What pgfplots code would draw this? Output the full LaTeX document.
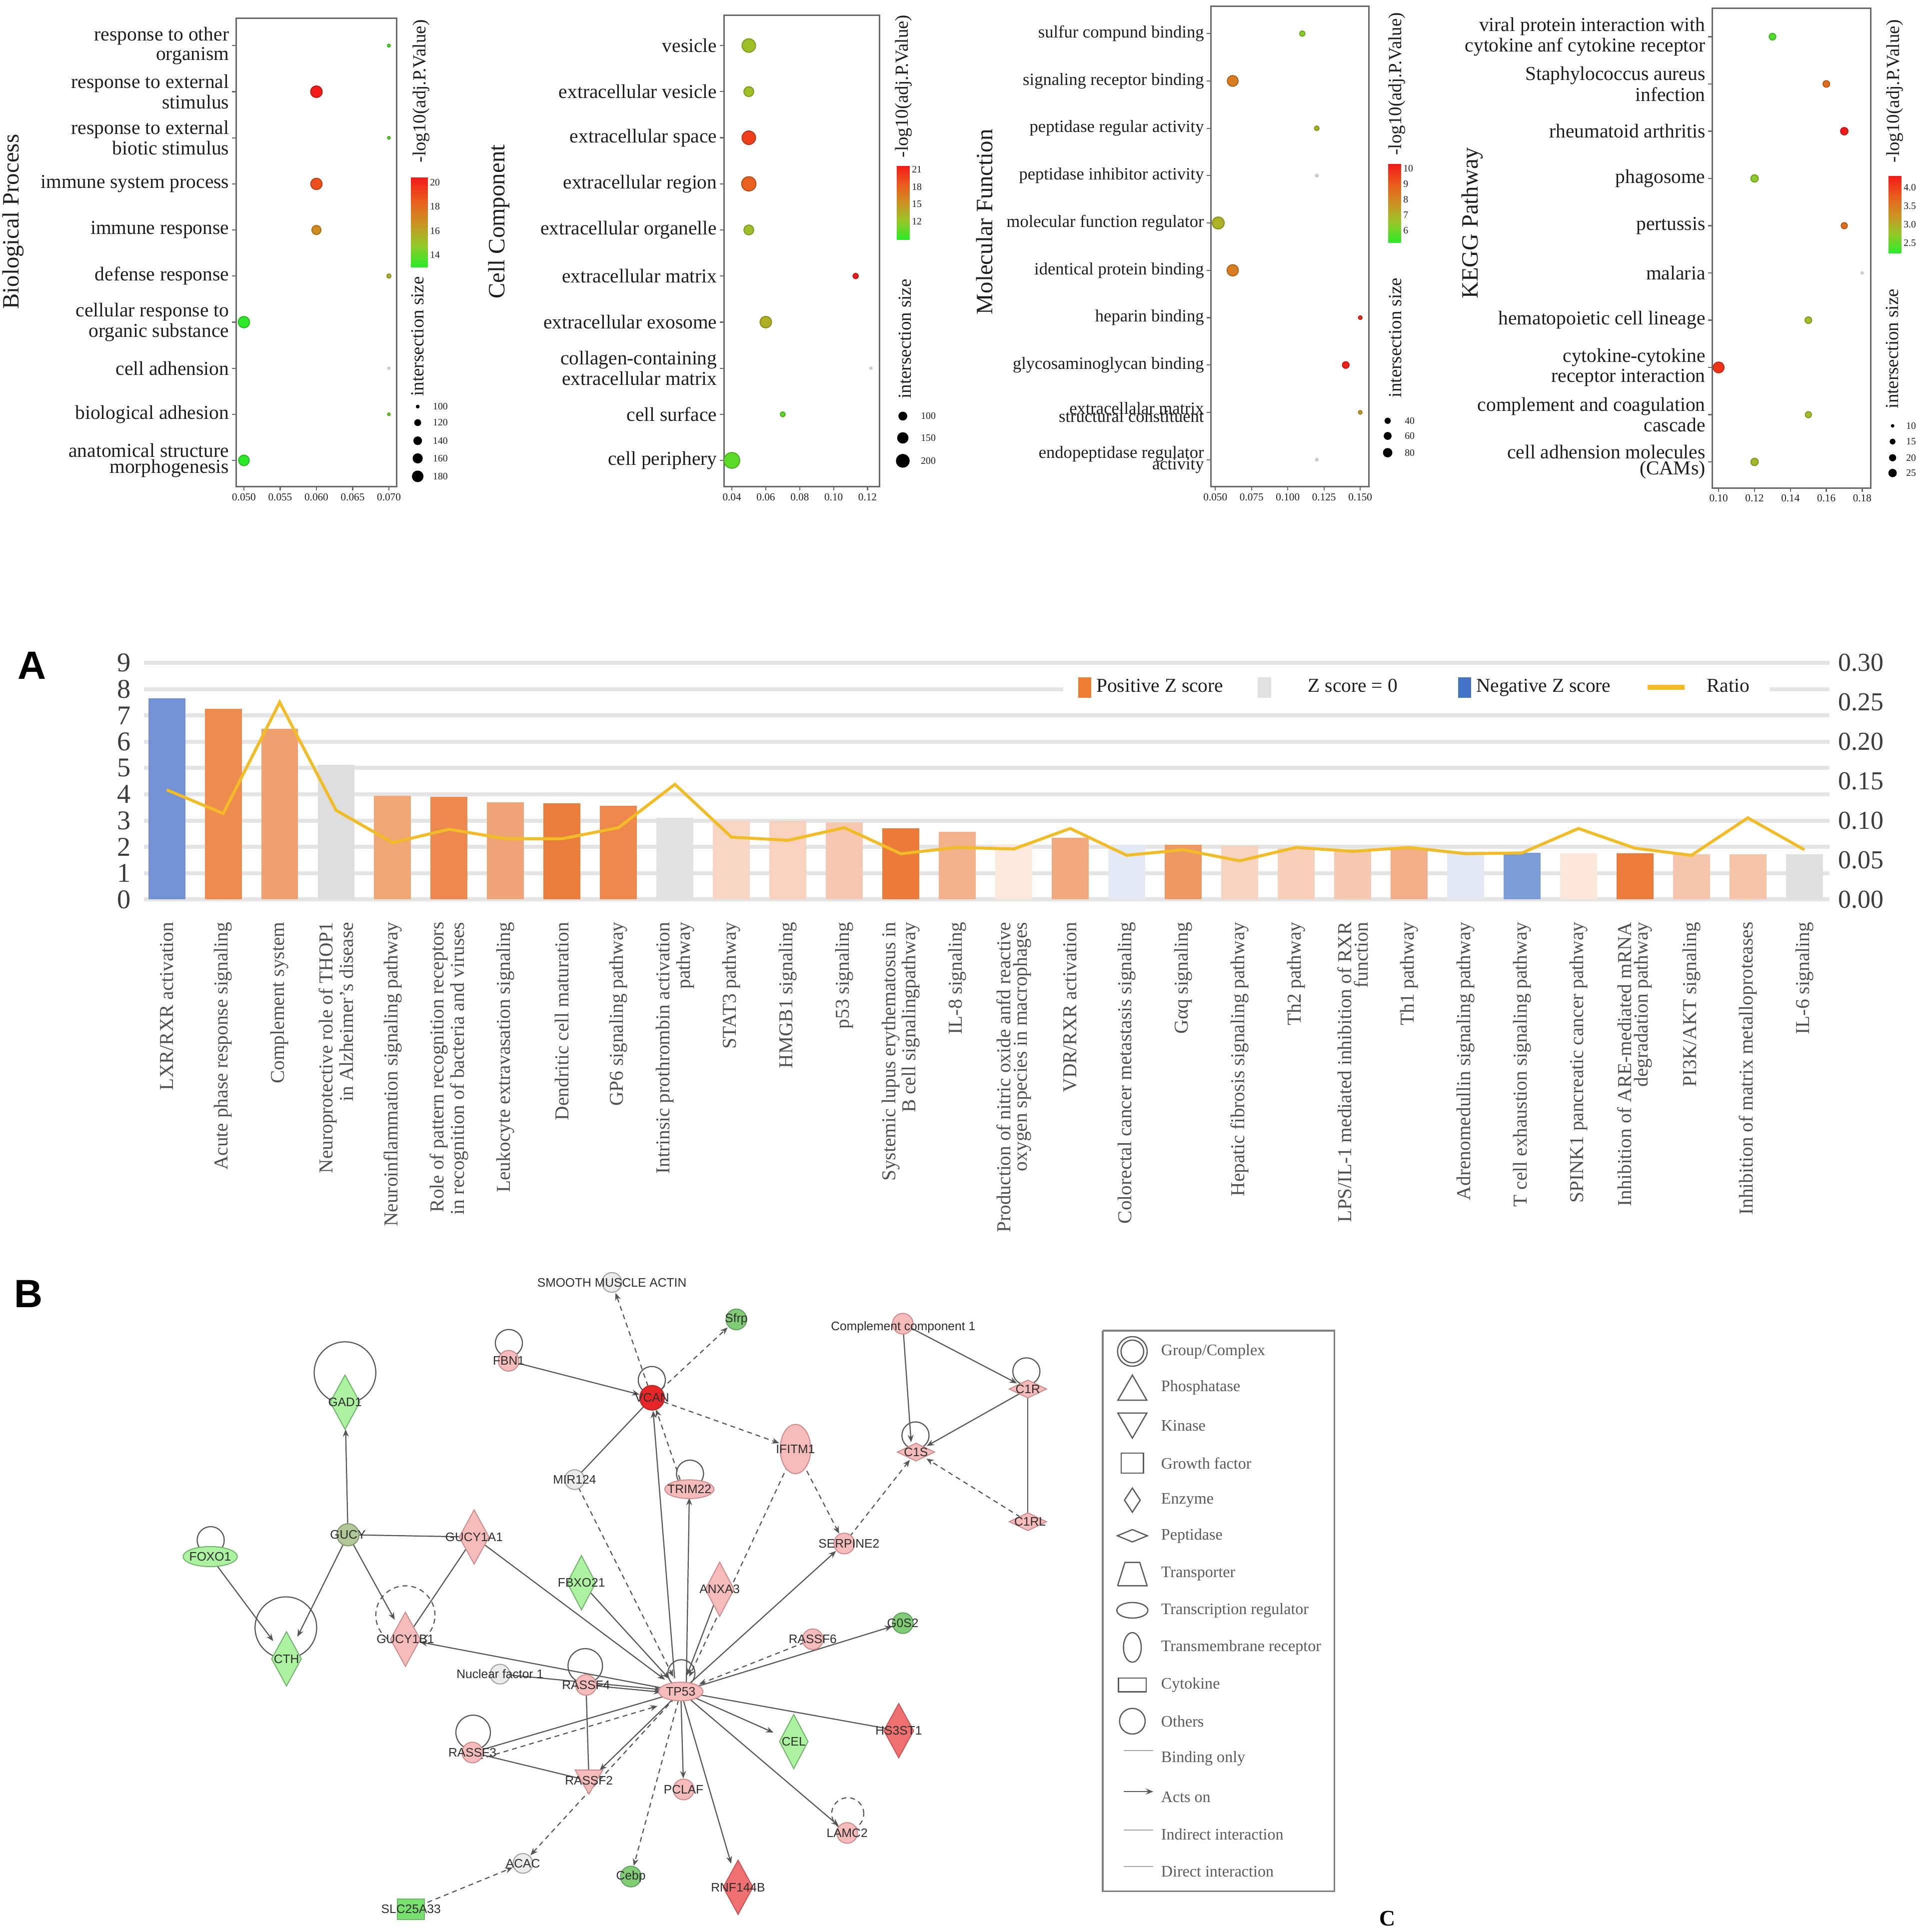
\documentclass[border=0pt]{standalone}
\usepackage{pgfplots}
\pgfplotsset{compat=1.18}
\usepackage{fontspec}
\setmainfont{Liberation Serif}
\setsansfont{Liberation Sans}
\usetikzlibrary{arrows.meta}
\newcommand{\fs}[2]{\fontsize{#1}{#2}\selectfont}

\definecolor{frm}{RGB}{105,105,105}
\definecolor{txt}{RGB}{30,30,30}
\definecolor{gridc}{RGB}{228,228,228}
\definecolor{labc}{RGB}{80,80,80}
\definecolor{ratioc}{RGB}{242,188,38}
\definecolor{edg}{RGB}{85,85,85}
\definecolor{pinkf}{RGB}{246,188,188}
\definecolor{pinkd}{RGB}{205,140,140}
\definecolor{redf}{RGB}{230,38,38}
\definecolor{redd}{RGB}{185,40,40}
\definecolor{rosef}{RGB}{238,112,112}
\definecolor{rosed}{RGB}{200,85,85}
\definecolor{grnf}{RGB}{172,242,160}
\definecolor{grnd}{RGB}{110,180,105}
\definecolor{dgrnf}{RGB}{128,205,118}
\definecolor{dgrnd}{RGB}{95,160,95}
\definecolor{gryf}{RGB}{236,236,236}
\definecolor{gryd}{RGB}{160,160,160}
\definecolor{gucyf}{RGB}{178,200,152}
\definecolor{gucyd}{RGB}{125,150,110}
\definecolor{legc}{RGB}{90,90,90}
\definecolor{posc}{RGB}{237,125,49}
\definecolor{zeroc}{RGB}{225,225,225}
\definecolor{negc}{RGB}{68,114,196}
% bar colours
\definecolor{bc1}{RGB}{115,146,214}
\definecolor{bc2}{RGB}{238,140,80}
\definecolor{bc3}{RGB}{240,160,112}
\definecolor{bc4}{RGB}{222,222,222}
\definecolor{bc5}{RGB}{241,166,118}
\definecolor{bc6}{RGB}{237,137,78}
\definecolor{bc7}{RGB}{240,163,118}
\definecolor{bc8}{RGB}{235,125,60}
\definecolor{bc9}{RGB}{237,135,75}
\definecolor{bc10}{RGB}{226,226,226}
\definecolor{bc11}{RGB}{248,214,196}
\definecolor{bc12}{RGB}{248,210,190}
\definecolor{bc13}{RGB}{246,200,178}
\definecolor{bc14}{RGB}{236,122,56}
\definecolor{bc15}{RGB}{243,178,140}
\definecolor{bc16}{RGB}{252,232,220}
\definecolor{bc17}{RGB}{241,168,124}
\definecolor{bc18}{RGB}{228,233,246}
\definecolor{bc19}{RGB}{238,152,98}
\definecolor{bc20}{RGB}{248,212,192}
\definecolor{bc21}{RGB}{248,208,186}
\definecolor{bc22}{RGB}{246,200,176}
\definecolor{bc23}{RGB}{242,174,134}
\definecolor{bc24}{RGB}{226,232,246}
\definecolor{bc25}{RGB}{124,156,216}
\definecolor{bc26}{RGB}{252,230,218}
\definecolor{bc27}{RGB}{236,124,58}
\definecolor{bc28}{RGB}{246,198,172}
\definecolor{bc29}{RGB}{246,196,168}
\definecolor{bc30}{RGB}{224,224,224}

\tikzset{
  edge/.style={draw=edg, line width=0.45pt},
  arr/.style={-{Stealth[length=3pt,width=2.4pt]}},
  dsh/.style={dash pattern=on 2pt off 1.6pt},
}
\pgfplotsset{
  colormap={gr}{rgb255=(40,235,40) rgb255=(150,200,40) rgb255=(205,145,35) rgb255=(235,90,30) rgb255=(242,25,25)},
  cbbase/.style={scale only axis, anchor=north west, at={(parent axis.north east)},
     axis line style={draw=none}, ytick style={draw=none}, major tick length=0pt,
     yticklabel style={font=\fs{4}{4}, text=txt, inner sep=0.8pt},
     /pgf/number format/assume math mode=true},
  dotplot/.style={scale only axis, anchor=south west, clip=false,
     ytick={1,...,10}, scaled x ticks=false,
     axis line style={draw=frm, line width=0.6pt},
     tick style={draw=frm, line width=0.45pt},
     tick align=outside, major tick length=1.6pt,
     xtick pos=left, ytick pos=left,
     yticklabel style={font=\fs{8}{6.4}, align=right, text=txt, inner sep=1pt},
     xticklabel style={font=\fs{4.3}{5}, text=txt, inner sep=1pt},
     /pgf/number format/assume math mode=true,
     colormap name=gr, colorbar},
  dots/.style={scatter, only marks, mark=*, point meta=\thisrow{c},
     visualization depends on={\thisrow{r} \as \rad},
     scatter/@pre marker code/.append style={/tikz/mark size=\rad}},
  overlay/.style={at={(0pt,0pt)}, anchor=south west, scale only axis, width=781pt, height=784pt,
     xmin=0, xmax=1562, ymin=0, ymax=1568, y dir=reverse, hide axis, clip=false},
}
\newcommand{\zb}[3]{\addplot[ybar, bar width=15pt, bar shift=0pt, draw=none, fill=#3, forget plot] coordinates {(#1,#2)};}
\newcommand{\sizedot}[5]{\addplot[only marks, mark=*, mark size=#3pt, black] coordinates {(#1,#2)};
  \node[anchor=west, font=\fs{4}{4}, text=txt, inner sep=0pt] at (axis cs:#5,#2) {#4};}
\newcommand{\netnode}[5]{\addplot[only marks, mark=#3, mark size=#4, mark options={line width=0.4pt,#5}] coordinates {(#1,#2)};}
\newcommand{\netlab}[3]{\node[font=\sffamily\fs{5}{5}, text={rgb,255:red,45;green,45;blue,45}, inner sep=0pt] at (axis cs:#1,#2) {#3};}
\newcommand{\legtxt}[2]{\node[anchor=west, font=\fs{6.5}{7}, text=legc, inner sep=0pt] at (axis cs:942,#1) {#2};}

\begin{document}
\begin{tikzpicture}
\path[use as bounding box] (0,0) rectangle (781pt,784pt);

%================ Biological Process =================
\begin{axis}[dotplot, at={(95.75pt,586.5pt)}, width=65.3pt, height=190pt,
  ymin=0.43, ymax=10.59,
  xmin=0.0489, xmax=0.0711, xtick={0.05,0.055,0.06,0.065,0.07},
  xticklabel style={/pgf/number format/fixed, /pgf/number format/fixed zerofill, /pgf/number format/precision=3},
  yticklabels={{anatomical structure\\morphogenesis},{biological adhesion},{cell adhension},{cellular response to\\organic substance},{defense response},{immune response},{immune system process},{response to external\\biotic stimulus},{response to external\\stimulus},{response to other\\organism}},
  point meta min=13.0, point meta max=20.4,
  colorbar style={cbbase, xshift=-2.84pt, yshift=-64.5pt, width=6.75pt, height=36.4pt, ytick={14,16,18,20}}]
\addplot[dots] table[x=x,y=y]{
x y c r
0.070 10 13.7 0.6
0.060 9 20.3 2.35
0.070 8 13.7 0.55
0.060 7 18.9 2.3
0.060 6 16.9 1.85
0.070 5 15.5 0.85
0.050 4 13.1 2.3
0.070 2 14.3 0.55
0.050 1 13.1 2.15
};
\addplot[only marks, mark=*, mark size=0.5pt, gray!40] coordinates {(0.070,3)};
\end{axis}

%================ Cell Component =================
\begin{axis}[dotplot, at={(293.75pt,586.5pt)}, width=63.1pt, height=191.35pt,
  ymin=0.43, ymax=10.66,
  xmin=0.0353, xmax=0.127, xtick={0.04,0.06,0.08,0.10,0.12},
  xticklabel style={/pgf/number format/fixed, /pgf/number format/fixed zerofill, /pgf/number format/precision=2},
  yticklabels={{cell periphery},{cell surface},{collagen-containing\\extracellular matrix},{extracellular exosome},{extracellular matrix},{extracellular organelle},{extracellular region},{extracellular space},{extracellular vesicle},{vesicle}},
  point meta min=8.8, point meta max=21.7,
  colorbar style={cbbase, xshift=-1.54pt, yshift=-61pt, width=5.2pt, height=30.2pt, ytick={12,15,18,21}}]
\addplot[dots] table[x=x,y=y]{
x y c r
0.050 10 12.5 2.75
0.050 9 12.5 2.0
0.050 8 19.8 2.75
0.050 7 18.2 2.9
0.050 6 12.5 2.0
0.113 5 21.5 1.1
0.060 4 13.5 2.35
0.070 2 10.3 1.0
0.040 1 10.3 3.2
};
\addplot[only marks, mark=*, mark size=0.5pt, gray!40] coordinates {(0.122,3)};
\end{axis}

%================ Molecular Function =================
\begin{axis}[dotplot, at={(491.35pt,586.5pt)}, width=64.1pt, height=195pt,
  ymin=0.43, ymax=10.58,
  xmin=0.0469, xmax=0.1559, xtick={0.05,0.075,0.1,0.125,0.15},
  xticklabel style={/pgf/number format/fixed, /pgf/number format/fixed zerofill, /pgf/number format/precision=3},
  yticklabel style={font=\fs{7}{5.8}},
  yticklabels={{endopeptidase regulator\\[-2.5pt]activity},{extracellalar matrix\\[-2.5pt]structural constituent},{glycosaminoglycan binding},{heparin binding},{identical protein binding},{molecular function regulator},{peptidase inhibitor activity},{peptidase regular activity},{signaling receptor binding},{sulfur compund binding}},
  point meta min=5.2, point meta max=10.3,
  colorbar style={cbbase, xshift=-0.54pt, yshift=-64pt, width=5pt, height=32pt, ytick={6,7,8,9,10}}]
\addplot[dots] table[x=x,y=y]{
x y c r
0.110 10 6.3 1.1
0.062 9 8.2 2.2
0.120 8 6.9 0.95
0.052 6 7.0 2.45
0.062 5 8.2 2.3
0.150 4 10.0 0.75
0.140 3 10.2 1.35
0.150 2 7.5 0.75
};
\addplot[only marks, mark=*, mark size=0.6pt, gray!40] coordinates {(0.120,7) (0.120,1)};
\end{axis}

%================ KEGG =================
\begin{axis}[dotplot, at={(694.8pt,586pt)}, width=64.3pt, height=194.6pt,
  ymin=0.45, ymax=10.6,
  xmin=0.0964, xmax=0.1847, xtick={0.10,0.12,0.14,0.16,0.18},
  xticklabel style={/pgf/number format/fixed, /pgf/number format/fixed zerofill, /pgf/number format/precision=2},
  yticklabels={{cell adhension molecules\\(CAMs)},{complement and coagulation\\cascade},{cytokine-cytokine\\receptor interaction},{hematopoietic cell lineage},{malaria},{pertussis},{phagosome},{rheumatoid arthritis},{Staphylococcus aureus\\infection},{viral protein interaction with\\cytokine anf cytokine receptor}},
  point meta min=2.23, point meta max=4.31,
  colorbar style={cbbase, xshift=-1.34pt, yshift=-67.9pt, width=5.2pt, height=31.5pt, ytick={2.5,3,3.5,4},
     yticklabel style={/pgf/number format/fixed, /pgf/number format/fixed zerofill, /pgf/number format/precision=1}}]
\addplot[dots] table[x=x,y=y]{
x y c r
0.130 10 2.4 1.35
0.160 9 3.6 1.35
0.170 8 4.3 1.5
0.120 7 2.7 1.5
0.170 6 3.6 1.25
0.150 4 2.85 1.35
0.100 3 4.1 2.2
0.150 2 2.85 1.25
0.120 1 2.9 1.5
};
\addplot[only marks, mark=*, mark size=0.5pt, gray!40] coordinates {(0.180,5)};
\end{axis}

%================ Bar chart A =================
\begin{axis}[at={(58.5pt,419pt)}, anchor=south west, scale only axis, width=684pt, height=96pt,
  xmin=0.6, xmax=30.45, ymin=0, ymax=9,
  axis line style={draw=none}, tick style={draw=none}, major tick length=0pt,
  ytick={0,...,9}, ymajorgrids, major grid style={line width=1.6pt, draw=gridc},
  xtick={1,...,30}, xtick pos=left, ytick pos=left,
  xticklabel shift=8pt,
  xticklabel style={rotate=90, anchor=east, align=right, font=\fs{8}{6.7}, text=labc, inner sep=1pt},
  yticklabel style={font=\fs{11}{11}, text={rgb,255:red,60;green,60;blue,60}, xshift=-2pt},
  /pgf/number format/assume math mode=true,
  xticklabels={{LXR/RXR activation},{Acute phase response signaling},{Complement system},{Neuroprotective role of THOP1\\in Alzheimer's disease},{Neuroinflammation signaling pathway},{Role of pattern recognition receptors\\in recognition of bacteria and viruses},{Leukocyte extravasation signaling},{Dendritic cell maturation},{GP6 signaling pathway},{Intrinsic prothrombin activation\\pathway},{STAT3 pathway},{HMGB1 signaling},{p53 signaling},{Systemic lupus erythematosus in\\B cell signalingpathway},{IL-8 signaling},{Production of nitric oxide anfd reactive\\oxygen species in macrophages},{VDR/RXR activation},{Colorectal cancer metastasis signaling},{Gαq signaling},{Hepatic fibrosis signaling pathway},{Th2 pathway},{LPS/IL-1 mediated inhibition of RXR\\function},{Th1 pathway},{Adrenomedullin signaling pathway},{T cell exhaustion signaling pathway},{SPINK1 pancreatic cancer pathway},{Inhibition of ARE-mediated mRNA\\degradation pathway},{PI3K/AKT signaling},{Inhibition of matrix metalloproteases},{IL-6 signaling}}]
\zb{1}{7.65}{bc1}
\zb{2}{7.25}{bc2}
\zb{3}{6.5}{bc3}
\zb{4}{5.13}{bc4}
\zb{5}{3.95}{bc5}
\zb{6}{3.9}{bc6}
\zb{7}{3.7}{bc7}
\zb{8}{3.65}{bc8}
\zb{9}{3.56}{bc9}
\zb{10}{3.1}{bc10}
\zb{11}{3.0}{bc11}
\zb{12}{3.0}{bc12}
\zb{13}{2.94}{bc13}
\zb{14}{2.7}{bc14}
\zb{15}{2.57}{bc15}
\zb{16}{2.1}{bc16}
\zb{17}{2.34}{bc17}
\zb{18}{2.08}{bc18}
\zb{19}{2.08}{bc19}
\zb{20}{2.04}{bc20}
\zb{21}{1.94}{bc21}
\zb{22}{1.9}{bc22}
\zb{23}{1.94}{bc23}
\zb{24}{1.84}{bc24}
\zb{25}{1.78}{bc25}
\zb{26}{1.75}{bc26}
\zb{27}{1.75}{bc27}
\zb{28}{1.71}{bc28}
\zb{29}{1.71}{bc29}
\zb{30}{1.71}{bc30}
\end{axis}

\begin{axis}[at={(58.5pt,419pt)}, anchor=south west, scale only axis, width=684pt, height=96pt,
  xmin=0.6, xmax=30.45, ymin=0, ymax=0.30,
  axis y line*=right, axis x line=none, axis line style={draw=none}, tick style={draw=none}, major tick length=0pt,
  ytick={0,0.05,0.1,0.15,0.2,0.25,0.3},
  yticklabel style={font=\fs{10.5}{11}, text={rgb,255:red,60;green,60;blue,60},
     /pgf/number format/fixed, /pgf/number format/fixed zerofill, /pgf/number format/precision=2},
  /pgf/number format/assume math mode=true,
  legend columns=4,
  legend style={at={(0.545,0.896)}, anchor=west, draw=none, fill=white, font=\fs{8}{8}, text=txt,
     inner xsep=6pt, inner ysep=3pt, /tikz/every even column/.append style={column sep=12pt}}]
\addlegendimage{legend image code/.code={\fill[posc] (0pt,-4pt) rectangle (5pt,4pt);}}
\addlegendentry{Positive Z score}
\addlegendimage{legend image code/.code={\fill[zeroc] (0pt,-4pt) rectangle (5pt,4pt);}}
\addlegendentry{\hspace*{13pt}Z score = 0\hspace*{10.5pt}}
\addlegendimage{legend image code/.code={\fill[negc] (0pt,-4pt) rectangle (5pt,4pt);}}
\addlegendentry{Negative Z score}
\addplot[color=ratioc, line width=1.2pt, legend image code/.code={\draw[ratioc, line width=2pt] (0pt,0pt) -- (15pt,0pt);}] coordinates {
(1,0.139) (2,0.109) (3,0.250) (4,0.113) (5,0.072) (6,0.089) (7,0.077) (8,0.077) (9,0.091) (10,0.146)
(11,0.079) (12,0.075) (13,0.091) (14,0.058) (15,0.066) (16,0.064) (17,0.090) (18,0.056) (19,0.063) (20,0.049)
(21,0.066) (22,0.061) (23,0.066) (24,0.058) (25,0.059) (26,0.090) (27,0.065) (28,0.056) (29,0.1035) (30,0.063)};
\addlegendentry{\hspace*{6pt}Ratio}
\end{axis}

%================ Overlay graphics: size legends, network, legend C =================
\begin{axis}[overlay]
% size legends
\sizedot{339}{330}{0.55}{100}{351}
\sizedot{339}{343}{1.2}{120}{351}
\sizedot{339}{357.7}{1.55}{140}{351}
\sizedot{339}{372}{1.85}{160}{351}
\sizedot{339}{386.6}{2.15}{180}{351}
\sizedot{732.7}{337.7}{1.6}{100}{747}
\sizedot{732.7}{355.4}{2.1}{150}{747}
\sizedot{732.7}{374}{2.6}{200}{747}
\sizedot{1126.2}{341.5}{1.1}{40}{1139.7}
\sizedot{1126.2}{353.8}{1.4}{60}{1139.7}
\sizedot{1126.2}{367.4}{1.7}{80}{1139.7}
\sizedot{1536}{345.6}{0.5}{10}{1546.6}
\sizedot{1536}{358.4}{1.0}{15}{1546.6}
\sizedot{1536}{371.5}{1.25}{20}{1546.6}
\sizedot{1536}{383.9}{1.5}{25}{1546.6}

% ---- network edges ----
\addplot[edge, arr, shorten >=5.3pt] coordinates {(412.8,1104.4) (529.2,1134.4)};
\addplot[edge, dsh, arr, shorten >=4.5pt, shorten <=5pt] coordinates {(529.2,1134.4) (496.6,1040.8)};
\addplot[edge, dsh, arr, shorten >=4.8pt, shorten <=5pt] coordinates {(529.2,1134.4) (597.6,1070.8)};
\addplot[edge, dsh, arr, shorten >=7pt, shorten <=5pt] coordinates {(529.2,1134.4) (645.6,1176)};
\addplot[edge] coordinates {(466.3,1200.8) (529.2,1134.4)};
\addplot[edge, arr, shorten >=5.3pt, shorten <=3pt] coordinates {(548,1368) (529.2,1134.4)};
\addplot[edge, dsh, arr, shorten >=5pt] coordinates {(552,1201) (529.2,1134.4)};
\addplot[edge, arr, shorten >=3.5pt] coordinates {(557,1367) (559.5,1208.6)};
\addplot[edge, dsh, arr, shorten >=4pt] coordinates {(466.3,1200.8) (550,1368)};
\addplot[edge, dsh, arr, shorten >=4pt] coordinates {(645.6,1176) (556,1368)};
\addplot[edge, dsh, arr, shorten >=4.5pt, shorten <=10pt] coordinates {(645.6,1176) (685.2,1252.7)};
\addplot[edge, arr, shorten >=4.5pt] coordinates {(552.5,1372.8) (685.2,1252.7)};
\addplot[edge, dsh, arr, shorten >=4pt] coordinates {(685.2,1252.7) (743.4,1178.5)};
\addplot[edge, arr, shorten >=5pt] coordinates {(732.7,1074.3) (834.2,1127.3)};
\addplot[edge, arr, shorten >=4pt] coordinates {(732.7,1074.3) (740,1178.5)};
\addplot[edge, arr, shorten >=5pt] coordinates {(834.2,1127.3) (743.4,1178.5)};
\addplot[edge] coordinates {(834.2,1127.3) (834.2,1235)};
\addplot[edge, dsh, arr, shorten >=5pt] coordinates {(834.2,1235) (743.4,1178.5)};
\addplot[edge, arr, shorten >=11pt] coordinates {(282.4,1245.6) (280,1138)};
\addplot[edge, arr, shorten >=10pt] coordinates {(282.4,1245.6) (232.5,1346.3)};
\addplot[edge] coordinates {(282.4,1245.6) (384.8,1247.4)};
\addplot[edge, arr, shorten >=9pt] coordinates {(282.4,1245.6) (329,1330.4)};
\addplot[edge] coordinates {(384.8,1247.4) (329,1330.4)};
\addplot[edge, arr, shorten >=8pt] coordinates {(384.8,1247.4) (552.5,1372.8)};
\addplot[edge, arr, shorten >=9pt] coordinates {(170.6,1263.3) (232.5,1346.3)};
\addplot[edge, arr, shorten >=7pt] coordinates {(471.9,1284.5) (552.5,1372.8)};
\addplot[edge, arr, shorten >=7pt] coordinates {(584.1,1289.8) (552.5,1372.8)};
\addplot[edge, dsh, arr, shorten >=8pt] coordinates {(659.6,1330.4) (552.5,1372.8)};
\addplot[edge, arr, shorten >=4.5pt] coordinates {(552.5,1372.8) (732.7,1317.3)};
\addplot[edge, arr, shorten >=6pt] coordinates {(552.5,1372.8) (329,1330.4)};
\addplot[edge, arr, shorten >=8pt] coordinates {(405.8,1358.7) (552.5,1372.8)};
\addplot[edge, arr, shorten >=8pt] coordinates {(475.6,1367.5) (552.5,1374.8)};
\addplot[edge] coordinates {(383.4,1422.3) (552.5,1372.8)};
\addplot[edge, dsh, arr, shorten >=8pt] coordinates {(388,1428) (549,1380)};
\addplot[edge] coordinates {(383.4,1422.3) (478,1445.2)};
\addplot[edge] coordinates {(475.6,1367.5) (478,1445.2)};
\addplot[edge, arr, shorten >=6pt] coordinates {(552.5,1372.8) (478,1445.2)};
\addplot[edge, arr, shorten >=4.5pt] coordinates {(552.5,1372.8) (554.8,1452.3)};
\addplot[edge, arr, shorten >=9pt] coordinates {(552.5,1372.8) (644.2,1413.4)};
\addplot[edge] coordinates {(552.5,1372.8) (729.4,1404.6)};
\addplot[edge, arr, shorten >=4.5pt] coordinates {(552.5,1372.8) (687.5,1487.6)};
\addplot[edge, arr, shorten >=10pt] coordinates {(552.5,1372.8) (599,1531.7)};
\addplot[edge, dsh, arr, shorten >=4.5pt] coordinates {(552.5,1372.8) (512,1523)};
\addplot[edge, dsh, arr, shorten >=4.5pt] coordinates {(552.5,1372.8) (424.4,1512.3)};
\addplot[edge, dsh, arr, shorten >=4.5pt] coordinates {(333.6,1549.4) (424.4,1512.3)};
% self loops
\addplot[only marks, mark=o, mark size=5.5pt, mark options={draw=edg, line width=0.45pt}] coordinates {(413,1090) (529,1120) (833,1113) (743,1165) (560,1196) (171,1250) (553,1358)};
\addplot[only marks, mark=o, mark size=12.5pt, mark options={draw=edg, line width=0.45pt}] coordinates {(280,1114) (232,1321)};
\addplot[only marks, mark=o, mark size=12pt, mark options={draw=edg, line width=0.45pt, dash pattern=on 2pt off 1.6pt}] coordinates {(329,1311)};
\addplot[only marks, mark=o, mark size=7pt, mark options={draw=edg, line width=0.45pt}] coordinates {(475,1352) (384,1406)};
\addplot[only marks, mark=o, mark size=6.5pt, mark options={draw=edg, line width=0.45pt, dash pattern=on 2pt off 1.6pt}] coordinates {(688,1472)};
% nodes
\netnode{412.8}{1104.4}{*}{4.2pt}{fill=pinkf, draw=pinkd}
\netnode{685.2}{1252.7}{*}{4.2pt}{fill=pinkf, draw=pinkd}
\netnode{659.6}{1330.4}{*}{4.2pt}{fill=pinkf, draw=pinkd}
\netnode{475.6}{1367.5}{*}{4.2pt}{fill=pinkf, draw=pinkd}
\netnode{383.4}{1422.3}{*}{4.2pt}{fill=pinkf, draw=pinkd}
\netnode{554.8}{1452.3}{*}{4.2pt}{fill=pinkf, draw=pinkd}
\netnode{687.5}{1487.6}{*}{4.2pt}{fill=pinkf, draw=pinkd}
\netnode{732.7}{1074.3}{*}{4.2pt}{fill=pinkf, draw=pinkd}
\netnode{529.2}{1134.4}{*}{5pt}{fill=redf, draw=redd}
\netnode{496.6}{1040.8}{*}{4pt}{fill=gryf, draw=gryd}
\netnode{466.3}{1200.8}{*}{4pt}{fill=gryf, draw=gryd}
\netnode{405.8}{1358.7}{*}{4pt}{fill=gryf, draw=gryd}
\netnode{424.4}{1512.3}{*}{4pt}{fill=gryf, draw=gryd}
\netnode{597.6}{1070.8}{*}{4.2pt}{fill=dgrnf, draw=dgrnd}
\netnode{732.7}{1317.3}{*}{4.2pt}{fill=dgrnf, draw=dgrnd}
\netnode{512}{1523}{*}{4.2pt}{fill=dgrnf, draw=dgrnd}
\netnode{282.4}{1245.6}{*}{4.5pt}{fill=gucyf, draw=gucyd}
\netnode{280}{1138}{diamond*}{11pt}{fill=grnf, draw=grnd, xscale=0.73}
\netnode{232.5}{1346.3}{diamond*}{11pt}{fill=grnf, draw=grnd, xscale=0.73}
\netnode{471.9}{1284.5}{diamond*}{11pt}{fill=grnf, draw=grnd, xscale=0.7}
\netnode{644.2}{1413.4}{diamond*}{11pt}{fill=grnf, draw=grnd, xscale=0.7}
\netnode{384.8}{1247.4}{diamond*}{11pt}{fill=pinkf, draw=pinkd, xscale=0.73}
\netnode{329}{1330.4}{diamond*}{11pt}{fill=pinkf, draw=pinkd, xscale=0.73}
\netnode{584.1}{1289.8}{diamond*}{11pt}{fill=pinkf, draw=pinkd, xscale=0.7}
\netnode{729.4}{1404.6}{diamond*}{11pt}{fill=rosef, draw=rosed, xscale=0.73}
\netnode{599}{1531.7}{diamond*}{11pt}{fill=rosef, draw=rosed, xscale=0.73}
\netnode{834.2}{1127.3}{diamond*}{3.6pt}{fill=pinkf, draw=pinkd, xscale=2.8}
\netnode{743.4}{1178.5}{diamond*}{3.6pt}{fill=pinkf, draw=pinkd, xscale=2.8}
\netnode{834.2}{1235}{diamond*}{3.6pt}{fill=pinkf, draw=pinkd, xscale=2.8}
\netnode{552.5}{1372.8}{*}{9pt}{fill=pinkf, draw=pinkd, yscale=0.42}
\netnode{559.5}{1208.6}{*}{10pt}{fill=pinkf, draw=pinkd, yscale=0.38}
\netnode{170.6}{1263.3}{*}{11pt}{fill=grnf, draw=grnd, yscale=0.37}
\netnode{645.6}{1176}{*}{10pt}{fill=pinkf, draw=pinkd, xscale=0.62}
\netnode{478}{1443}{triangle*}{6.5pt}{fill=pinkf, draw=pinkd, rotate=180}
\netnode{333.6}{1549.4}{square*}{5.5pt}{fill={rgb,255:red,120;green,225;blue,110}, draw=grnd, yscale=0.75}

% ---- legend C graphics ----
\addplot[draw=gray, line width=0.7pt, line join=miter] coordinates {(895,1080) (1083,1080) (1083,1535) (895,1535) (895,1080)};
\addplot[only marks, mark=o, mark size=6pt, mark options={draw=legc, line width=0.5pt}] coordinates {(919,1096.8)};
\addplot[only marks, mark=o, mark size=4.6pt, mark options={draw=legc, line width=0.5pt}] coordinates {(919,1096.8)};
\addplot[only marks, mark=triangle, mark size=6.8pt, mark options={draw=legc, line width=0.5pt}] coordinates {(919,1129.6)};
\addplot[only marks, mark=triangle, mark size=6.8pt, mark options={draw=legc, line width=0.5pt, rotate=180}] coordinates {(919,1153.6)};
\addplot[only marks, mark=square, mark size=4.5pt, mark options={draw=legc, line width=0.5pt, yscale=0.9}] coordinates {(919,1187.4)};
\addplot[only marks, mark=diamond, mark size=4.9pt, mark options={draw=legc, line width=0.5pt, xscale=0.87}] coordinates {(919,1217.5)};
\addplot[only marks, mark=diamond, mark size=2.5pt, mark options={draw=legc, line width=0.5pt, xscale=3.25}] coordinates {(919,1246.4)};
\addplot[draw=legc, line width=0.5pt] coordinates {(907,1287) (931,1287) (925,1268) (913,1268) (907,1287)};
\addplot[only marks, mark=o, mark size=6.3pt, mark options={draw=legc, line width=0.5pt, yscale=0.5}] coordinates {(919,1306.9)};
\addplot[only marks, mark=o, mark size=6pt, mark options={draw=legc, line width=0.5pt, xscale=0.6}] coordinates {(919,1337)};
\addplot[only marks, mark=square, mark size=5.6pt, mark options={draw=legc, line width=0.5pt, yscale=0.5}] coordinates {(919,1367.4)};
\addplot[only marks, mark=o, mark size=5.2pt, mark options={draw=legc, line width=0.5pt}] coordinates {(919,1396.9)};
\addplot[draw=gray!70, line width=0.5pt] coordinates {(912,1420.8) (936,1420.8)};
\addplot[draw=legc, line width=0.5pt, -{Stealth[length=3pt,width=2.4pt]}] coordinates {(912,1454) (936,1454)};
\addplot[draw=gray!70, line width=0.5pt] coordinates {(912,1485.3) (936,1485.3)};
\addplot[draw=gray!70, line width=0.5pt] coordinates {(912,1514.8) (936,1514.8)};
\end{axis}

%================ Overlay texts =================
\begin{axis}[overlay]
\addplot[draw=none, forget plot] coordinates {(0,0) (1562,1568)};
\node[font=\sffamily\bfseries\fs{16}{16}] at (axis cs:26,540) {A};
\node[font=\sffamily\bfseries\fs{16}{16}] at (axis cs:23,1050) {B};
\node[font=\bfseries\fs{9}{9}] at (axis cs:1126,1557) {C};
\node[rotate=90, font=\fs{9.5}{10}, text=txt] at (axis cs:10.5,180) {Biological Process};
\node[rotate=90, font=\fs{9.5}{10}, text=txt] at (axis cs:405,180) {Cell Component};
\node[rotate=90, font=\fs{9.5}{10}, text=txt] at (axis cs:799,180) {Molecular Function};
\node[rotate=90, font=\fs{9.5}{10}, text=txt] at (axis cs:1195,181) {KEGG Pathway};
\node[rotate=90, font=\fs{7.5}{8}, text=txt] at (axis cs:342,74) {-log10(adj.P.Value)};
\node[rotate=90, font=\fs{7.5}{8}, text=txt] at (axis cs:733.4,70) {-log10(adj.P.Value)};
\node[rotate=90, font=\fs{7.5}{8}, text=txt] at (axis cs:1133.6,68) {-log10(adj.P.Value)};
\node[rotate=90, font=\fs{7.5}{8}, text=txt] at (axis cs:1538,74) {-log10(adj.P.Value)};
\node[rotate=90, font=\fs{7.5}{8}, text=txt] at (axis cs:339,273) {intersection size};
\node[rotate=90, font=\fs{7.5}{8}, text=txt] at (axis cs:734.6,275) {intersection size};
\node[rotate=90, font=\fs{7.5}{8}, text=txt] at (axis cs:1132.4,274) {intersection size};
\node[rotate=90, font=\fs{7.5}{8}, text=txt] at (axis cs:1535.6,283) {intersection size};
% node labels
\netlab{496.6}{1041}{SMOOTH MUSCLE ACTIN}
\netlab{597.6}{1070.8}{Sfrp}
\netlab{412.8}{1104.4}{FBN1}
\netlab{529.2}{1134.4}{VCAN}
\netlab{733}{1077}{Complement component 1}
\netlab{834.2}{1127.3}{C1R}
\netlab{743.4}{1178.5}{C1S}
\netlab{836}{1235}{C1RL}
\netlab{645.6}{1176}{IFITM1}
\netlab{559.5}{1208.6}{TRIM22}
\netlab{466.3}{1200.8}{MIR124}
\netlab{280}{1138}{GAD1}
\netlab{282.4}{1245.6}{GUCY}
\netlab{384.8}{1247.4}{GUCY1A1}
\netlab{170.6}{1263.3}{FOXO1}
\netlab{232.5}{1346.3}{CTH}
\netlab{329}{1330.4}{GUCY1B1}
\netlab{471.9}{1284.5}{FBXO21}
\netlab{584.1}{1289.8}{ANXA3}
\netlab{689}{1252.7}{SERPINE2}
\netlab{659.6}{1330.4}{RASSF6}
\netlab{732.7}{1317.3}{G0S2}
\netlab{405.8}{1358.7}{Nuclear factor 1}
\netlab{475.6}{1367.5}{RASSF4}
\netlab{552.5}{1372.8}{TP53}
\netlab{383.4}{1422.3}{RASSF3}
\netlab{478}{1445.2}{RASSF2}
\netlab{554.8}{1452.3}{PCLAF}
\netlab{644.2}{1413.4}{CEL}
\netlab{729.4}{1404.6}{HS3ST1}
\netlab{687.5}{1487.6}{LAMC2}
\netlab{599}{1531.7}{RNF144B}
\netlab{512}{1523}{Cebp}
\netlab{424.4}{1512.3}{ACAC}
\netlab{333.6}{1549.4}{SLC25A33}
% legend C texts
\legtxt{1096.8}{Group/Complex}
\legtxt{1126.2}{Phosphatase}
\legtxt{1157}{Kinase}
\legtxt{1187.4}{Growth factor}
\legtxt{1217.5}{Enzyme}
\legtxt{1246.4}{Peptidase}
\legtxt{1277.4}{Transporter}
\legtxt{1306.9}{Transcription regulator}
\legtxt{1337}{Transmembrane receptor}
\legtxt{1367.4}{Cytokine}
\legtxt{1396.9}{Others}
\legtxt{1427.3}{Binding only}
\legtxt{1458.4}{Acts on}
\legtxt{1488.6}{Indirect interaction}
\legtxt{1519}{Direct interaction}
\end{axis}
\end{tikzpicture}
\end{document}
